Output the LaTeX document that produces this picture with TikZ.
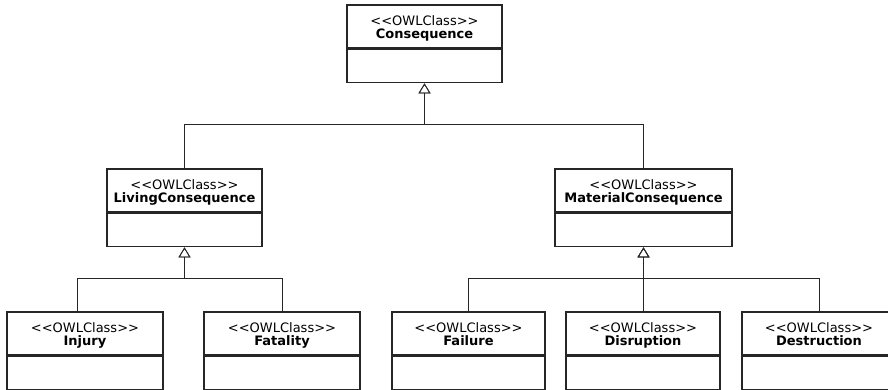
\documentclass[tikz,border=0pt]{standalone}
\usepackage{fontspec}
\usepackage{tikz}
\usetikzlibrary{arrows.meta,positioning}
\newfontfamily\umlfont{DejaVu Sans}
\newcommand{\owltext}[1]{\rule{0pt}{14.3pt}<{}<OWLClass>{}>\\\textbf{#1}\rule[-4pt]{0pt}{4pt}}

\begin{document}
\begin{tikzpicture}[x=1pt, y=-1pt,
    every node/.style={font=\umlfont\fontsize{13}{13.3}\selectfont},
    owl/.style={draw=black!85, line width=1.6pt, fill=white, align=center,
                minimum width=#1, minimum height=43pt, inner sep=0pt},
    attr/.style={draw=black!85, line width=1.6pt, fill=white,
                 minimum width=#1, minimum height=33pt, inner sep=0pt},
    gen/.style={draw=black!85, line width=0.8pt,
                -{Triangle[open, length=10pt, width=12pt]}}]
    \useasboundingbox (0,0) rectangle (888,389);

    \node[owl=155pt] (cons) at (424.5,26.5) {\owltext{Consequence}};
    \node[attr=155pt, below=0pt of cons] (cons-a) {};

    \node[owl=155pt] (liv) at (184.5,190.5) {\owltext{LivingConsequence}};
    \node[attr=155pt, below=0pt of liv] (liv-a) {};
    \node[owl=177pt] (mat) at (643.5,190.5) {\owltext{MaterialConsequence}};
    \node[attr=177pt, below=0pt of mat] (mat-a) {};

    \node[owl=156pt] (inj) at (85,333.5) {\owltext{Injury}};
    \node[attr=156pt, below=0pt of inj] (inj-a) {};
    \node[owl=156pt] (fat) at (282,333.5) {\owltext{Fatality}};
    \node[attr=156pt, below=0pt of fat] (fat-a) {};
    \node[owl=153pt] (fail) at (468.5,333.5) {\owltext{Failure}};
    \node[attr=153pt, below=0pt of fail] (fail-a) {};
    \node[owl=154pt] (dis) at (643,333.5) {\owltext{Disruption}};
    \node[attr=154pt, below=0pt of dis] (dis-a) {};
    \node[owl=154pt] (des) at (819,333.5) {\owltext{Destruction}};
    \node[attr=154pt, below=0pt of des] (des-a) {};

    \coordinate (top-j) at (424.5,124);
    \coordinate (liv-j) at (184.5,278);
    \coordinate (mat-j) at (643.5,278);
    \coordinate (inj-in) at (77,312);

    \draw[gen] (liv.north) |- (top-j) -- (cons-a.south);
    \draw[gen] (mat.north) |- (top-j) -- (cons-a.south);

    \draw[gen] (inj-in) |- (liv-j) -- (liv-a.south);
    \draw[gen] (fat.north) |- (liv-j) -- (liv-a.south);

    \draw[gen] (fail.north) |- (mat-j) -- (mat-a.south);
    \draw[gen] (dis.north) |- (mat-j) -- (mat-a.south);
    \draw[gen] (des.north) |- (mat-j) -- (mat-a.south);
\end{tikzpicture}
\end{document}
